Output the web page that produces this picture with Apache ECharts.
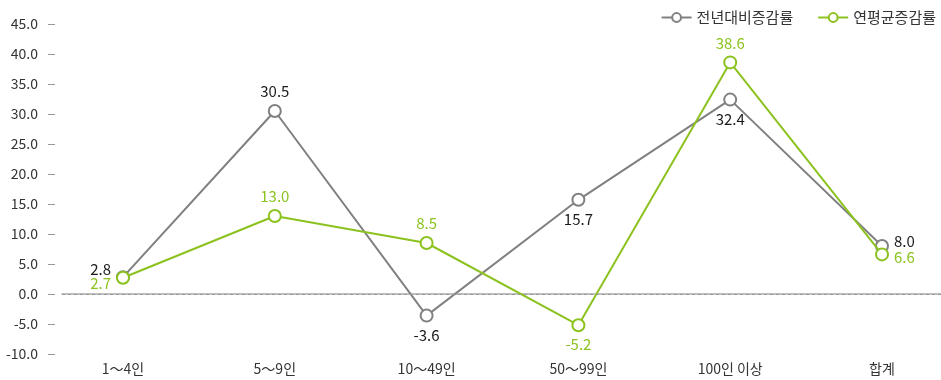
<!DOCTYPE html>
<html>
<head>
<meta charset="utf-8">
<script src="https://cdn.jsdelivr.net/npm/echarts@6/dist/echarts.min.js"></script>
<style>
  html, body { margin: 0; padding: 0; background: #fff; }
  #chart { width: 941px; height: 380px; }
</style>
</head>
<body>
<div id="chart"></div>
<script>
// Size groups (employees) and the two growth-rate series (%)
const categories = ['1～4인', '5～9인', '10～49인', '50～99인', '100인 이상', '합계'];
const yoyRate = [2.8, 30.5, -3.6, 15.7, 32.4, 8.0];      // 전년대비증감률
const annualRate = [2.7, 13.0, 8.5, -5.2, 38.6, 6.6];    // 연평균증감률
const seriesNames = ['전년대비증감률', '연평균증감률'];

// Label placement for each point: [position, vertical nudge]
const yoyPos = [['left', -8], ['top', 0], ['bottom', 0], ['bottom', 0], ['bottom', 0], ['right', -5]];
const annualPos = [['left', 5], ['top', 0], ['top', 0], ['bottom', 0], ['top', 0], ['right', 3]];

const FONT = '"Noto Sans CJK KR", "Noto Sans", sans-serif';
const GRAY = '#808080';
const GREEN = '#8cc21f';

function withLabels(values, positions) {
  return values.map((v, i) => ({
    value: v,
    label: { position: positions[i][0], offset: [0, positions[i][1]] }
  }));
}

const chart = echarts.init(document.getElementById('chart'));
chart.setOption({
  animation: false,
  textStyle: { fontFamily: FONT },
  legend: {
    top: 5,
    right: 0,
    itemWidth: 30,
    itemHeight: 11,
    itemGap: 24,
    textStyle: { fontSize: 15, color: '#333', fontFamily: FONT },
    data: seriesNames
  },
  grid: [
    // lines: first and last category sit on the grid edges
    { left: 123, right: 59, top: 24, bottom: 26 },
    // frame: bottom axis line, zero line and y-axis labels
    { left: 62, right: 0, top: 24, bottom: 26 }
  ],
  xAxis: [
    {
      type: 'category', gridIndex: 0, data: categories, boundaryGap: false,
      axisLine: { show: false },
      axisTick: { show: false },
      axisLabel: { margin: 8, fontSize: 14, color: '#333', fontFamily: FONT }
    },
    {
      type: 'category', gridIndex: 1, data: categories,
      axisLine: { show: true, lineStyle: { color: '#aaa', width: 1.5 } },
      axisTick: { show: false },
      axisLabel: { show: false }
    }
  ],
  yAxis: [
    {
      type: 'value', gridIndex: 0, min: -10, max: 45, interval: 5,
      show: false, splitLine: { show: false }
    },
    {
      type: 'value', gridIndex: 1, min: -10, max: 45, interval: 5,
      offset: 7,
      axisLine: { show: false },
      axisTick: { show: true, length: 7, lineStyle: { color: '#999' } },
      splitLine: { show: false },
      axisLabel: {
        margin: 17, fontSize: 14, color: '#333', fontFamily: FONT,
        formatter: v => v.toFixed(1)
      }
    }
  ],
  series: [
    {
      name: seriesNames[0], type: 'line', xAxisIndex: 0, yAxisIndex: 0,
      data: withLabels(yoyRate, yoyPos),
      clip: false,
      symbol: 'emptyCircle', symbolSize: 12,
      lineStyle: { color: GRAY, width: 2 },
      itemStyle: { color: GRAY, borderColor: GRAY, borderWidth: 2.5 },
      label: {
        show: true, fontSize: 15, color: '#1a1a1a', fontFamily: FONT, distance: 5,
        formatter: p => p.value.toFixed(1)
      },
      z: 3
    },
    {
      name: seriesNames[1], type: 'line', xAxisIndex: 0, yAxisIndex: 0,
      data: withLabels(annualRate, annualPos),
      clip: false,
      symbol: 'emptyCircle', symbolSize: 12,
      lineStyle: { color: GREEN, width: 2 },
      itemStyle: { color: GREEN, borderColor: GREEN, borderWidth: 2.5 },
      label: {
        show: true, fontSize: 15, color: GREEN, fontFamily: FONT, distance: 5,
        formatter: p => p.value.toFixed(1)
      },
      z: 4
    },
    {
      // zero reference line across the plot
      type: 'line', xAxisIndex: 1, yAxisIndex: 1, data: [],
      silent: true,
      markLine: {
        silent: true, symbol: 'none', label: { show: false },
        lineStyle: { color: '#999', type: [3, 3], width: 1 },
        data: [{ yAxis: 0 }]
      }
    }
  ]
});
</script>
</body>
</html>
